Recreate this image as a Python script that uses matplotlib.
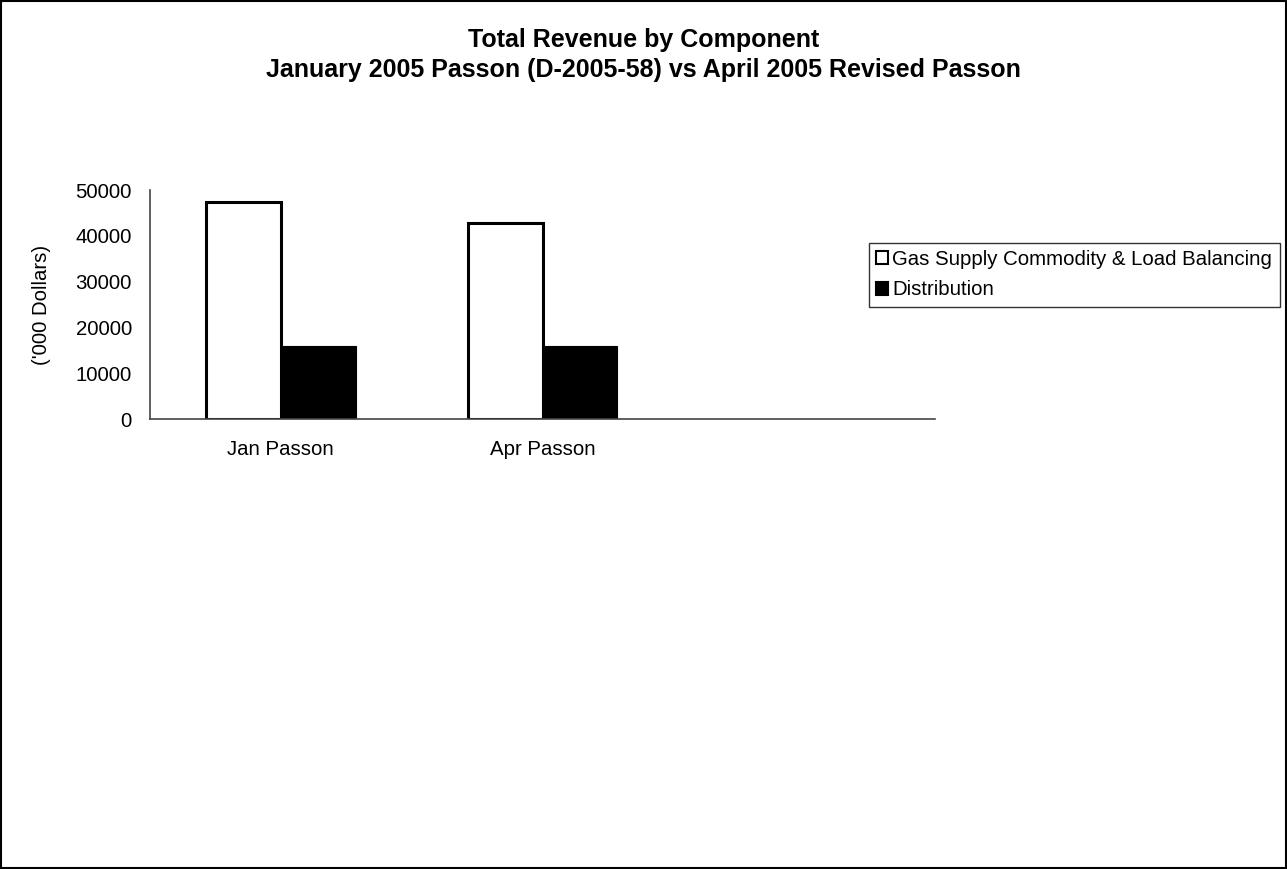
import numpy as np
import matplotlib.pyplot as plt
from matplotlib.patches import Rectangle

plt.rcParams['font.family'] = ['Liberation Sans', 'DejaVu Sans']

# Data
categories = ["Jan Passon", "Apr Passon", ""]
gas_supply = [47400, 42900, np.nan]
distribution = [15950, 15950, np.nan]
series_names = ["Gas Supply Commodity & Load Balancing", "Distribution"]
y_ticks = [0, 10000, 20000, 30000, 40000, 50000]

fig = plt.figure(figsize=(12.87, 8.69), dpi=100)
ax = fig.add_axes([150 / 1287, 1 - 419 / 869, 785 / 1287, 229 / 869])

x = np.arange(len(categories))
w = 0.286
ax.bar(x - w / 2, gas_supply, w, color="white", edgecolor="black", linewidth=2.2,
       label=series_names[0])
ax.bar(x + w / 2, distribution, w, color="black", edgecolor="black", linewidth=0.8,
       label=series_names[1])

ax.set_xlim(-0.5, len(categories) - 0.5)
ax.set_ylim(0, 50000)
ax.set_yticks(y_ticks)
ax.set_yticklabels([str(v) for v in y_ticks], fontsize=14.7)
ax.set_xticks(x)
ax.set_xticklabels(categories, fontsize=14.7)
ax.tick_params(axis="both", length=0)
ax.tick_params(axis="y", pad=13)
ax.tick_params(axis="x", pad=15)
for s in ["top", "right"]:
    ax.spines[s].set_visible(False)
for s in ["left", "bottom"]:
    ax.spines[s].set_color("#444444")
    ax.spines[s].set_linewidth(1.2)
ax.set_ylabel("('000 Dollars)", fontsize=14.7, labelpad=18)

# two-line bold title
fig.text(0.5, 1 - 40 / 869, "Total Revenue by Component", ha="center", va="center",
         fontsize=18, fontweight="bold")
fig.text(0.5, 1 - 70 / 869, "January 2005 Passon (D-2005-58) vs April 2005 Revised Passon",
         ha="center", va="center", fontsize=18, fontweight="bold")

leg = fig.legend(loc="upper left", bbox_to_anchor=(869 / 1287, 1 - 243 / 869),
                 fontsize=14.7, frameon=True, fancybox=False, handlelength=0.6,
                 handleheight=0.6, handletextpad=0.2, borderpad=0.35,
                 labelspacing=0.55, borderaxespad=0)
leg.get_frame().set_edgecolor("black")
leg.get_frame().set_linewidth(1.0)
for h in leg.legend_handles:
    h.set_linewidth(1.5)

# outer border of the chart area
fig.patches.append(Rectangle((0.001, 0.001), 0.998, 0.998, transform=fig.transFigure,
                             fill=False, edgecolor="black", linewidth=1.5))

fig.savefig("out.png", dpi=100, facecolor="white")
